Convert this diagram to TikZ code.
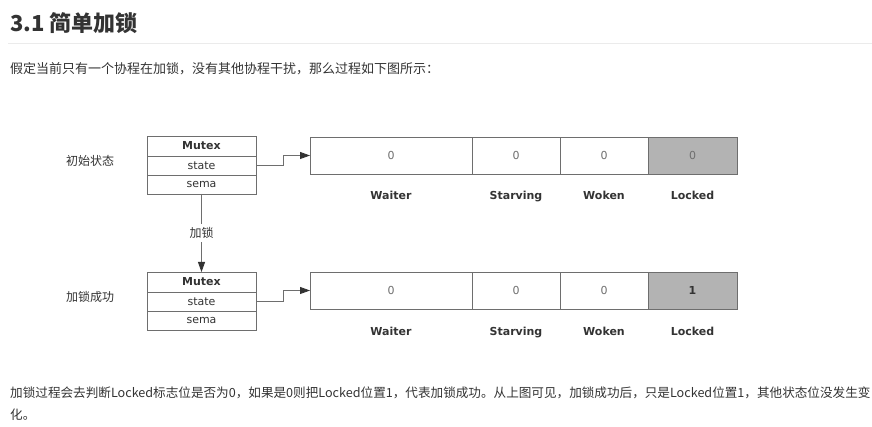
\documentclass[tikz,border=0pt]{standalone}
\usepackage{fontspec}
\newfontfamily\cjk{Noto Sans CJK SC}
\newfontfamily\diag{DejaVu Sans}
\usetikzlibrary{positioning}
\usetikzlibrary{arrows.meta}

\definecolor{ink}{HTML}{333333}
\definecolor{edge}{HTML}{6E6E6E}
\definecolor{lockfill}{HTML}{B3B3B3}
\definecolor{rulegray}{HTML}{EBEBEB}

\tikzset{
  field/.style={draw=edge, line width=0.8pt, minimum width=109pt, inner sep=0pt,
    outer sep=0pt, text=ink, font=\diag\fontsize{11}{13}\selectfont},
  cell/.style={draw=edge, line width=0.8pt, minimum height=37pt, inner sep=0pt,
    outer sep=0pt, text=edge, font=\diag\fontsize{11}{13}\selectfont},
  bitname/.style={anchor=base, text=ink, font=\diag\bfseries\fontsize{11}{13}\selectfont},
  rowname/.style={text=ink, font=\cjk\fontsize{12}{14}\selectfont},
  link/.style={draw=edge, line width=0.8pt, -{Triangle[length=10pt,width=7pt,color=ink]}},
  para/.style={anchor=base west, text=ink, inner sep=0pt, font=\cjk\fontsize{13}{16}\selectfont}
}

\begin{document}
\begin{tikzpicture}[x=1pt,y=-1pt]
\useasboundingbox[fill=white] (0,0) rectangle (872,427);

% heading and text
\node[para, font=\cjk\bfseries\fontsize{22}{26}\selectfont] (title) at (10,32) {3.1 简单加锁};
\draw[rulegray, line width=1pt] (8,44) -- (872,44);
\node[para] (intro) at (10,74) {假定当前只有一个协程在加锁，没有其他协程干扰，那么过程如下图所示：};

% initial state
\node[rowname] (init) at (90,161) {初始状态};
\node[field, minimum height=20pt, anchor=north west, font=\diag\bfseries\fontsize{11}{13}\selectfont] (mutex1) at (147,136) {Mutex};
\node[field, minimum height=19pt, below=0pt of mutex1] (state1) {state};
\node[field, minimum height=19pt, below=0pt of state1] (sema1) {sema};

\node[cell, minimum width=162pt, anchor=north west] (waiter1) at (310,137) {0};
\node[cell, minimum width=88pt, right=0pt of waiter1] (starving1) {0};
\node[cell, minimum width=88pt, right=0pt of starving1] (woken1) {0};
\node[cell, minimum width=89pt, fill=lockfill, right=0pt of woken1] (locked1) {0};

\node[bitname] at ([yshift=-26pt]waiter1.south) {Waiter};
\node[bitname] at ([yshift=-26pt]starving1.south) {Starving};
\node[bitname] at ([yshift=-26pt]woken1.south) {Woken};
\node[bitname] at ([yshift=-26pt]locked1.south) {Locked};

\draw[link] (state1.east) -- ++(27,0) |- (waiter1.west);

% after locking
\node[rowname] (done) at (90,297) {加锁成功};
\node[field, minimum height=20pt, anchor=north west, font=\diag\bfseries\fontsize{11}{13}\selectfont] (mutex2) at (147,272) {Mutex};
\node[field, minimum height=19pt, below=0pt of mutex2] (state2) {state};
\node[field, minimum height=19pt, below=0pt of state2] (sema2) {sema};

\node[cell, minimum width=162pt, anchor=north west] (waiter2) at (310,272) {0};
\node[cell, minimum width=88pt, right=0pt of waiter2] (starving2) {0};
\node[cell, minimum width=88pt, right=0pt of starving2] (woken2) {0};
\node[cell, minimum width=89pt, fill=lockfill, right=0pt of woken2, text=ink,
  font=\diag\bfseries\fontsize{11}{13}\selectfont] (locked2) {1};

\node[bitname] at ([yshift=-26pt]waiter2.south) {Waiter};
\node[bitname] at ([yshift=-26pt]starving2.south) {Starving};
\node[bitname] at ([yshift=-26pt]woken2.south) {Woken};
\node[bitname] at ([yshift=-26pt]locked2.south) {Locked};

\draw[link] (state2.east) -- ++(27,0) |- (waiter2.west);

\draw[link] (sema1.south) -- node[rowname, fill=white, inner sep=3pt] {加锁} (mutex2.north);

% summary
\node[para, font=\cjk\fontsize{12.6}{16}\selectfont] (summary) at (10,397) {加锁过程会去判断Locked标志位是否为0，如果是0则把Locked位置1，代表加锁成功。从上图可见，加锁成功后，只是Locked位置1，其他状态位没发生变};
\node[para, font=\cjk\fontsize{12.6}{16}\selectfont] (summaryend) at (10,419) {化。};

\end{tikzpicture}
\end{document}
